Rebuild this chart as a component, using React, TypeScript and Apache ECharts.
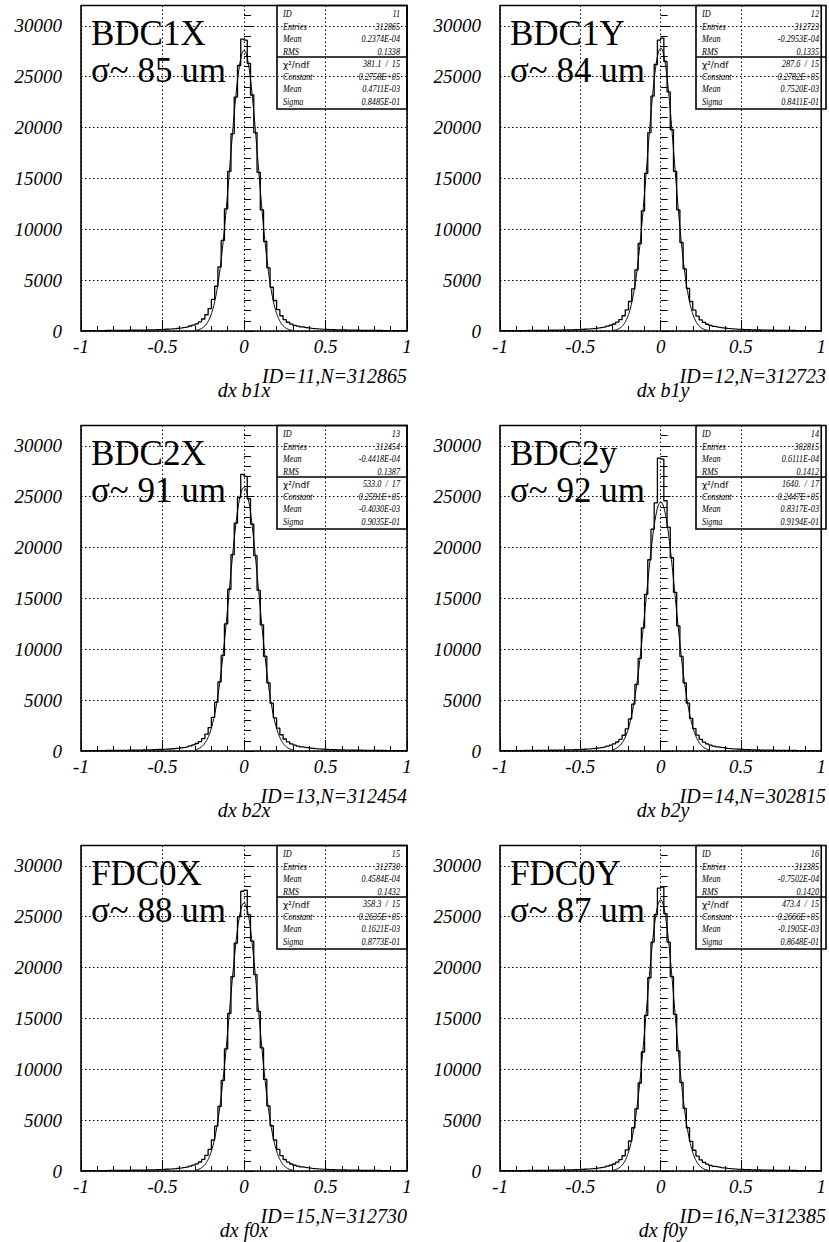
import React, { useEffect, useRef } from "react";
import * as echarts from "echarts";

const PAGE_W = 829;
const PAGE_H = 1242;

const X_MIN = -1;
const X_MAX = 1;
const N_BINS = 100;
const Y_MAX = 32000;

const TITLES = ["BDC1X", "BDC1Y", "BDC2X", "BDC2y", "FDC0X", "FDC0Y"];
const SIGMA_LABELS = ["σ~ 85 um", "σ~ 84 um", "σ~ 91 um", "σ~ 92 um", "σ~ 88 um", "σ~ 87 um"];
const ID_CAPTIONS = ["ID=11,N=312865", "ID=12,N=312723", "ID=13,N=312454", "ID=14,N=302815", "ID=15,N=312730", "ID=16,N=312385"];
const AXIS_NAMES = ["dx b1x", "dx b1y", "dx b2x", "dx b2y", "dx f0x", "dx f0y"];

const STAT_LABELS = ["ID", "Entries", "Mean", "RMS", "χ²/ndf", "Constant", "Mean", "Sigma"];
const STATS_11 = ["11", "312865", "0.2374E-04", "0.1338", "381.1  /  15", "0.2758E+05", "0.4711E-03", "0.8485E-01"];
const STATS_12 = ["12", "312723", "-0.2953E-04", "0.1335", "287.6  /  15", "0.2782E+05", "0.7520E-03", "0.8411E-01"];
const STATS_13 = ["13", "312454", "-0.4418E-04", "0.1387", "533.0  /  17", "0.2591E+05", "-0.4030E-03", "0.9035E-01"];
const STATS_14 = ["14", "302815", "0.6111E-04", "0.1412", "1640.  /  17", "0.2447E+05", "0.8317E-03", "0.9194E-01"];
const STATS_15 = ["15", "312730", "0.4584E-04", "0.1432", "358.3  /  15", "0.2635E+05", "0.1621E-03", "0.8773E-01"];
const STATS_16 = ["16", "312385", "-0.7502E-04", "0.1420", "473.4  /  15", "0.2666E+05", "-0.1905E-03", "0.8648E-01"];
const STATS = [STATS_11, STATS_12, STATS_13, STATS_14, STATS_15, STATS_16];

// Gaussian fit parameters (from the stats boxes)
const FIT_CONSTANT = [27580, 27820, 25910, 24470, 26350, 26660];
const FIT_MEAN = [0.0004711, 0.000752, -0.000403, 0.0008317, 0.0001621, -0.0001905];
const FIT_SIGMA = [0.08485, 0.08411, 0.09035, 0.09194, 0.08773, 0.08648];
const FIT_RANGE = [-0.3, 0.3];

// Histogram contents, 100 bins of width 0.02 from -1 to 1
const HIST_BDC1X = [
  33, 34, 36, 38, 40, 42, 44, 47, 49, 52, 56, 59, 63, 67, 72, 77, 82, 88, 95, 102,
  111, 120, 130, 142, 156, 172, 190, 212, 238, 270, 310, 355, 415, 490, 580, 710, 900, 1180, 1600, 2200,
  3100, 4400, 6300, 8900, 12000, 15700, 19400, 23000, 26100, 28700,
  28600, 26300, 23200, 19500, 15600, 11900, 8800, 6200, 4300, 3000,
  2100, 1500, 1120, 860, 680, 560, 470, 400, 345, 300, 262, 230, 205, 183, 165, 150, 137, 125, 115, 106,
  98, 91, 85, 79, 74, 69, 65, 61, 57, 54, 51, 48, 45, 43, 41, 39, 37, 35, 33, 32,
];
const HIST_BDC1Y = [
  32, 34, 35, 37, 39, 41, 43, 46, 48, 51, 55, 58, 62, 66, 70, 75, 81, 87, 93, 101,
  109, 118, 128, 140, 154, 170, 188, 210, 236, 268, 305, 350, 405, 475, 565, 690, 870, 1120, 1500, 2080,
  2900, 4150, 6000, 8600, 11800, 15500, 19500, 23100, 26200, 28600,
  28800, 26500, 23500, 19800, 15700, 11900, 8700, 6100, 4200, 2900,
  2050, 1460, 1090, 840, 665, 545, 458, 390, 338, 294, 258, 227, 202, 181, 163, 148, 135, 124, 114, 105,
  97, 90, 84, 78, 73, 68, 64, 60, 56, 53, 50, 47, 45, 42, 40, 38, 36, 34, 33, 31,
];
const HIST_BDC2X = [
  34, 35, 37, 39, 41, 43, 45, 48, 50, 53, 57, 60, 64, 68, 73, 78, 83, 89, 96, 104,
  113, 122, 133, 146, 160, 177, 196, 219, 246, 279, 318, 366, 425, 500, 600, 735, 930, 1220, 1650, 2300,
  3300, 4800, 6800, 9400, 12500, 15900, 19300, 22400, 24900, 27200,
  27000, 24800, 22300, 19200, 15800, 12400, 9300, 6700, 4700, 3250,
  2250, 1600, 1180, 900, 710, 580, 485, 412, 355, 310, 272, 240, 214, 192, 173, 157, 143, 131, 120, 111,
  102, 95, 88, 82, 77, 72, 67, 63, 59, 56, 53, 50, 47, 44, 42, 40, 38, 36, 34, 33,
];
const HIST_BDC2Y = [
  33, 34, 36, 38, 40, 42, 44, 47, 49, 52, 56, 59, 63, 67, 71, 76, 81, 87, 94, 101,
  110, 119, 130, 142, 156, 172, 190, 212, 239, 271, 308, 354, 410, 483, 575, 705, 885, 1150, 1550, 2180,
  3150, 4600, 6550, 9100, 12100, 15400, 18800, 21800, 24400, 28800,
  28700, 24600, 22000, 19000, 15600, 12300, 9300, 6700, 4700, 3200,
  2200, 1560, 1150, 880, 700, 570, 478, 406, 350, 305, 268, 236, 210, 188, 170, 154, 140, 128, 118, 109,
  100, 93, 86, 80, 75, 70, 66, 62, 58, 55, 52, 49, 46, 44, 41, 39, 37, 35, 34, 32,
];
const HIST_FDC0X = [
  33, 34, 36, 38, 40, 42, 44, 46, 49, 52, 55, 59, 62, 66, 71, 76, 81, 87, 94, 101,
  110, 119, 129, 141, 155, 171, 189, 211, 238, 269, 307, 353, 409, 481, 575, 702, 885, 1150, 1540, 2130,
  3050, 4420, 6350, 8900, 12000, 15500, 19100, 22400, 25000, 27500,
  27600, 25200, 22600, 19300, 15700, 12100, 9000, 6400, 4450, 3050,
  2120, 1520, 1130, 870, 690, 565, 473, 402, 347, 302, 265, 234, 208, 186, 168, 152, 139, 127, 117, 108,
  100, 92, 86, 80, 75, 70, 65, 61, 58, 54, 51, 48, 46, 43, 41, 39, 37, 35, 34, 32,
];
const HIST_FDC0Y = [
  33, 34, 36, 38, 40, 42, 44, 46, 49, 52, 55, 58, 62, 66, 70, 75, 81, 87, 93, 101,
  109, 118, 128, 140, 154, 170, 188, 210, 236, 267, 304, 349, 404, 475, 566, 690, 870, 1125, 1500, 2070,
  2950, 4250, 6100, 8650, 11700, 15300, 19000, 22500, 25200, 27800,
  27900, 25300, 22500, 19100, 15400, 11800, 8700, 6150, 4250, 2920,
  2040, 1470, 1100, 850, 675, 553, 464, 395, 341, 297, 261, 230, 205, 184, 166, 150, 137, 126, 116, 107,
  99, 92, 85, 79, 74, 69, 65, 61, 57, 54, 51, 48, 45, 43, 41, 39, 37, 35, 33, 32,
];
const HISTS = [HIST_BDC1X, HIST_BDC1Y, HIST_BDC2X, HIST_BDC2Y, HIST_FDC0X, HIST_FDC0Y];

// Layout
const COL_LEFT = [81, 500];
const CAPTION_RIGHT = [407, 826];
const ROW_TOP = [5.5, 425.5, 845.5];
const PLOT_W = 326;
const PLOT_H = 325.5;
const BOX_W = 130;
const BOX_H = 103.5;
const BOX_SEP = 51.5;
const STAT_ROW_Y = [8, 21, 33.5, 46, 58.5, 71, 83.5, 96];

const SERIF = "Liberation Serif";
const SANS = "DejaVu Sans";
const DOTTED = [1.5, 2.5];

function buildOption() {
  const grid: any[] = [];
  const xAxis: any[] = [];
  const yAxis: any[] = [];
  const series: any[] = [];
  const graphic: any[] = [];
  const binW = (X_MAX - X_MIN) / N_BINS;

  for (let p = 0; p < 6; p++) {
    const col = p % 2;
    const row = Math.floor(p / 2);
    const left = COL_LEFT[col];
    const top = ROW_TOP[row];
    const right = left + PLOT_W;
    const bottom = top + PLOT_H;

    grid.push({
      left,
      top,
      width: PLOT_W,
      height: PLOT_H,
      show: true,
      borderColor: "#000",
      borderWidth: 1.6,
      backgroundColor: "transparent",
    });

    xAxis.push({
      type: "value",
      gridIndex: p,
      min: X_MIN,
      max: X_MAX,
      interval: 0.1,
      position: "bottom",
      axisLine: { show: false },
      axisTick: { show: true, inside: true, length: 5, lineStyle: { color: "#000", width: 1 } },
      axisLabel: { show: false },
      splitLine: { show: false },
    });
    xAxis.push({
      type: "value",
      gridIndex: p,
      min: X_MIN,
      max: X_MAX,
      interval: 0.5,
      position: "bottom",
      axisLine: { show: false },
      axisTick: { show: true, inside: true, length: 11, lineStyle: { color: "#000", width: 1 } },
      axisLabel: {
        show: true,
        margin: 6,
        fontFamily: SERIF,
        fontStyle: "italic",
        fontSize: 19,
        color: "#000",
      },
      splitLine: { show: true, lineStyle: { color: "#000", width: 1, type: DOTTED } },
    });
    yAxis.push({
      type: "value",
      gridIndex: p,
      min: 0,
      max: Y_MAX,
      interval: 1000,
      position: "left",
      axisLine: { show: false },
      axisTick: { show: true, inside: true, length: 7, lineStyle: { color: "#000", width: 1 } },
      axisLabel: { show: false },
      splitLine: { show: false },
    });
    yAxis.push({
      type: "value",
      gridIndex: p,
      min: 0,
      max: Y_MAX,
      interval: 5000,
      position: "left",
      axisLine: { show: false },
      axisTick: { show: true, inside: true, length: 10, lineStyle: { color: "#000", width: 1 } },
      axisLabel: {
        show: true,
        margin: 19,
        fontFamily: SERIF,
        fontStyle: "italic",
        fontSize: 19,
        color: "#000",
        formatter: (v: number) => (v % 5000 === 0 ? String(v) : ""),
      },
      splitLine: { show: true, lineStyle: { color: "#000", width: 1, type: DOTTED } },
    });

    const hist = HISTS[p];
    const histData: number[][] = [[X_MIN, 0]];
    for (let i = 0; i < hist.length; i++) {
      histData.push([X_MIN + i * binW, hist[i]]);
    }
    histData.push([X_MAX, hist[hist.length - 1]]);
    histData.push([X_MAX, 0]);

    series.push({
      type: "line",
      xAxisIndex: 2 * p + 1,
      yAxisIndex: 2 * p + 1,
      step: "end",
      symbol: "none",
      data: histData,
      lineStyle: { color: "#000", width: 1.3 },
      clip: true,
      z: 3,
    });

    const fitData: number[][] = [];
    const nFit = 240;
    for (let k = 0; k <= nFit; k++) {
      const x = FIT_RANGE[0] + ((FIT_RANGE[1] - FIT_RANGE[0]) * k) / nFit;
      const t = (x - FIT_MEAN[p]) / FIT_SIGMA[p];
      fitData.push([x, FIT_CONSTANT[p] * Math.exp(-0.5 * t * t)]);
    }
    series.push({
      type: "line",
      xAxisIndex: 2 * p + 1,
      yAxisIndex: 2 * p + 1,
      symbol: "none",
      data: fitData,
      lineStyle: { color: "#000", width: 1 },
      clip: true,
      z: 4,
    });

    graphic.push({
      type: "text",
      x: left + 10,
      y: top + 27.8,
      silent: true,
      style: { text: TITLES[p], fontFamily: SERIF, fontSize: 35, fill: "#000", align: "left", verticalAlign: "middle" },
    });
    graphic.push({
      type: "text",
      x: left + 10,
      y: top + 65.4,
      silent: true,
      style: { text: SIGMA_LABELS[p], fontFamily: SERIF, fontSize: 35, fill: "#000", align: "left", verticalAlign: "middle" },
    });

    const boxLeft = right - BOX_W;
    graphic.push({
      type: "rect",
      silent: true,
      shape: { x: boxLeft, y: top, width: BOX_W, height: BOX_H },
      style: { fill: "none", stroke: "#000", lineWidth: 1.6 },
    });
    graphic.push({
      type: "line",
      silent: true,
      shape: { x1: boxLeft, y1: top + BOX_SEP, x2: right, y2: top + BOX_SEP },
      style: { stroke: "#000", lineWidth: 1.6 },
    });
    for (let r = 0; r < STAT_LABELS.length; r++) {
      const isChi = r === 4;
      graphic.push({
        type: "text",
        silent: true,
        x: boxLeft + 6,
        y: top + STAT_ROW_Y[r],
        scaleX: isChi ? 0.95 : 0.82,
        style: {
          text: STAT_LABELS[r],
          fontFamily: isChi ? SANS : SERIF,
          fontStyle: isChi ? "normal" : "italic",
          fontSize: isChi ? 9.5 : 10,
          fill: "#000",
          align: "left",
          verticalAlign: "middle",
        },
      });
      graphic.push({
        type: "text",
        silent: true,
        x: right - 7,
        y: top + STAT_ROW_Y[r],
        scaleX: 0.82,
        style: {
          text: STATS[p][r],
          fontFamily: SERIF,
          fontStyle: "italic",
          fontSize: 10,
          fill: "#000",
          align: "right",
          verticalAlign: "middle",
        },
      });
    }

    graphic.push({
      type: "text",
      silent: true,
      x: CAPTION_RIGHT[col],
      y: bottom + 44.5,
      style: { text: ID_CAPTIONS[p], fontFamily: SERIF, fontStyle: "italic", fontSize: 20, fill: "#000", align: "right", verticalAlign: "middle" },
    });
    graphic.push({
      type: "text",
      silent: true,
      x: left + PLOT_W / 2,
      y: bottom + 59,
      style: { text: AXIS_NAMES[p], fontFamily: SERIF, fontStyle: "italic", fontSize: 20, fill: "#000", align: "center", verticalAlign: "middle" },
    });
  }

  return {
    animation: false,
    backgroundColor: "#fff",
    grid,
    xAxis,
    yAxis,
    series,
    graphic,
  };
}

export default function App() {
  const ref = useRef<HTMLDivElement>(null);
  useEffect(() => {
    document.body.style.margin = "0";
    if (!ref.current) return;
    const chart = echarts.init(ref.current, undefined, { renderer: "svg" });
    chart.setOption(buildOption() as any);
    return () => {
      chart.dispose();
    };
  }, []);
  return <div ref={ref} style={{ width: PAGE_W, height: PAGE_H }} />;
}
